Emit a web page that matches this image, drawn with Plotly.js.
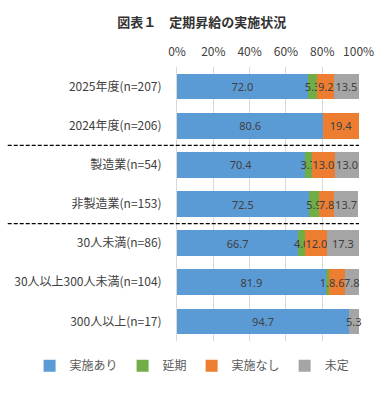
<!DOCTYPE html>
<html><head><meta charset="utf-8">
<script src="https://cdn.plot.ly/plotly-3.0.1.min.js"></script>
<style>html,body{margin:0;padding:0;background:#fff}</style>
</head><body><div id="chart" style="width:392px;height:397px"></div>
<script>
const categories = ["2025年度(n=207)","2024年度(n=206)","製造業(n=54)","非製造業(n=153)","30人未満(n=86)","30人以上300人未満(n=104)","300人以上(n=17)"];
const seriesNames = ["実施あり","延期","実施なし","未定"];
const jisshiAri = [72.0, 80.6, 70.4, 72.5, 66.7, 81.9, 94.7];
const enki = [5.3, 0, 3.7, 5.9, 4.0, 1.8, 0];
const jisshiNashi = [9.2, 19.4, 13.0, 7.8, 12.0, 8.6, 0];
const mitei = [13.5, 0, 13.0, 13.7, 17.3, 7.8, 5.3];
const tickVals = [0, 20, 40, 60, 80, 100];
const tickText = ["0%", "20%", "40%", "60%", "80%", "100%"];
const colors = ["#5B9BD5", "#70AD47", "#ED7D31", "#A5A5A5"];
const allSeries = [jisshiAri, enki, jisshiNashi, mitei];
const font = "'Noto Sans CJK JP', 'Noto Sans', sans-serif";

const traces = allSeries.map((vals, i) => ({
  type: 'bar', orientation: 'h', name: seriesNames[i],
  y: categories, x: vals,
  marker: {color: colors[i]},
  text: vals.map(v => v > 0 ? v.toFixed(1) : ''),
  texttemplate: '%{text}',
  textposition: 'inside', insidetextanchor: 'middle', textangle: 0,
  constraintext: 'none', cliponaxis: false,
  textfont: {color: '#404040', size: 11, family: "'Noto Sans', sans-serif"},
  hoverinfo: 'none'
}));

const layout = {
  width: 392, height: 397,
  margin: {l: 177, r: 33, t: 67, b: 56},
  barmode: 'stack', bargap: 0.34,
  paper_bgcolor: '#fff', plot_bgcolor: '#fff',
  font: {family: font, color: '#404040', size: 12},
  uniformtext: {mode: 'show', minsize: 11},
  title: {text: '<b>図表１　定期昇給の実施状況</b>', font: {size: 13, color: '#333'},
    xref: 'container', x: 0.515, xanchor: 'center', yref: 'container', y: 1 - 22/397, yanchor: 'middle'},
  xaxis: {side: 'top', range: [0, 100.2], tickmode: 'array', tickvals: tickVals, ticktext: tickText,
    showgrid: true, gridcolor: '#D9D9D9', gridwidth: 1, zeroline: false,
    ticks: '', ticklabelstandoff: 8, tickfont: {size: 12, color: '#404040'}, fixedrange: true},
  yaxis: {autorange: 'reversed', showline: true, linecolor: '#D9D9D9', ticks: '',
    ticklabelstandoff: 12, tickfont: {size: 12, color: '#404040'}, fixedrange: true},
  legend: {orientation: 'h', xref: 'paper', x: -0.81, xanchor: 'left',
    yref: 'paper', y: -0.09, yanchor: 'middle',
    font: {size: 12, color: '#595959'}, itemwidth: 30, traceorder: 'normal'},
  shapes: [1.5, 3.5].map(yy => ({type: 'line', xref: 'paper', yref: 'y',
    x0: -0.93, x1: 1, y0: yy, y1: yy, line: {color: '#000', width: 1.3, dash: '4px,2px'}}))
};
Plotly.newPlot('chart', traces, layout, {displayModeBar: false, staticPlot: true});
</script></body></html>
